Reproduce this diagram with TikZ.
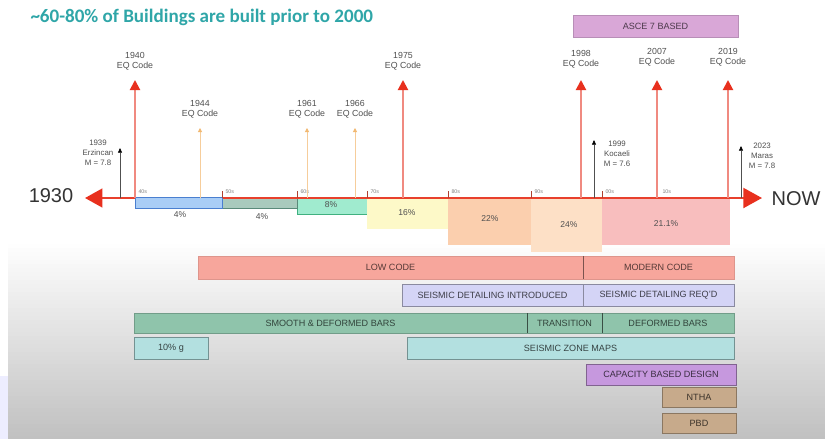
\documentclass[tikz,border=0pt]{standalone}
\usepackage{fontspec}
\setmainfont{Liberation Sans}
\newfontfamily\titlefont{Carlito}
\usetikzlibrary{arrows.meta}

\definecolor{titleteal}{HTML}{2FA6A8}
\definecolor{axisred}{HTML}{E8402C}
\definecolor{codered}{HTML}{E8301E}
\definecolor{codeline}{HTML}{F08A80}
\definecolor{oldorange}{HTML}{F2B870}
\definecolor{labelgray}{HTML}{505050}
\definecolor{tickred}{HTML}{B04030}
\definecolor{fortyfill}{HTML}{A9CDF6}
\definecolor{fortyedge}{HTML}{4A7FD0}
\definecolor{fiftyfill}{HTML}{A9CABD}
\definecolor{fiftyedge}{HTML}{5A8A7A}
\definecolor{sixtyfill}{HTML}{A0EBCF}
\definecolor{sixtyedge}{HTML}{40B080}
\definecolor{seventyfill}{HTML}{FDF9C8}
\definecolor{eightyfill}{HTML}{FBCFAE}
\definecolor{ninetyfill}{HTML}{FDE0C6}
\definecolor{noughtfill}{HTML}{F8BEBE}
\definecolor{asce}{HTML}{D9A7D7}
\definecolor{lowfill}{HTML}{F7A69C}
\definecolor{detfill}{HTML}{D4D4F6}
\definecolor{barfill}{HTML}{8FC4AB}
\definecolor{zonefill}{HTML}{B3E0E0}
\definecolor{capfill}{HTML}{C698DE}
\definecolor{nlfill}{HTML}{C7AA8B}

\tikzset{every picture/.style={line width=0.75pt}}

\begin{document}
\begin{tikzpicture}[x=0.75pt,y=0.75pt,yscale=-1,xscale=1,
	lbl/.style={font=\fontsize{6.6}{7.6}\selectfont, align=center, text=labelgray, inner sep=0pt},
	quakelbl/.style={font=\fontsize{5.9}{7.4}\selectfont, align=center, text=labelgray, inner sep=0pt},
	decade/.style={font=\fontsize{4}{5}\selectfont, text=gray, anchor=west, inner sep=0pt},
	pct/.style={font=\fontsize{6.4}{7}\selectfont, text=labelgray},
	bandtxt/.style={font=\fontsize{6.8}{8}\selectfont},
	eqcode/.style={draw=codeline, line width=1.5pt, -{Triangle[length=7.5pt,width=7.5pt,color=codered]}},
	oldcode/.style={draw=oldorange!70, line width=0.6pt, -{Triangle[length=3pt,width=3pt,color=oldorange]}},
	quake/.style={draw=labelgray, line width=0.5pt, -{Triangle[length=3.5pt,width=3pt,color=black]}},
	]
	\useasboundingbox (0,0) rectangle (825,439);
	%background, fading to grey at the bottom
	\fill[white] (0,0) rectangle (825,439);
	\foreach \i [evaluate=\i as \amt using \i*0.5] in {0,...,49}
		\fill[black!\amt] (8,{240+\i*4}) rectangle (825,{244.6+\i*4});
	\fill[blue!7] (0,376) rectangle (8,439);
	
	%title
	\node[anchor=west, inner sep=0pt, font=\titlefont\bfseries\fontsize{14.3}{16}\selectfont, text=titleteal] (title) at (30,17) {\textasciitilde 60-80\% of Buildings are built prior to 2000};
	
	%ASCE box
	\draw[fill=asce, draw=asce!85!black] (573,15) rectangle (738,37) node[midway, bandtxt, text=asce!35!black] (asce) {ASCE 7 BASED};
	
	%decade blocks
	\fill[sixtyfill] (297,197) rectangle (367,214);
	\draw[draw=sixtyedge, line width=0.6pt] (297,198) -- (297,214) -- (367,214) -- (367,198);
	\fill[seventyfill] (367,197) rectangle (448,229);
	\fill[eightyfill] (448,197) rectangle (531,245);
	\fill[ninetyfill] (531,197) rectangle (602,252);
	\fill[noughtfill] (602,197) rectangle (730,245);
	\fill[fiftyfill] (222,197) rectangle (297,208);
	\draw[draw=fiftyedge, line width=0.6pt] (222,198) -- (222,208) -- (297,208) -- (297,198);
	
	%time axis
	\coordinate (past) at (85,198);
	\coordinate (now) at (762,198);
	\draw[draw=axisred, line width=1.6pt, {Triangle[length=13pt,width=14pt,color=codered]}-{Triangle[length=14pt,width=15pt,color=codered]}] (past) -- (now);
	\node[font=\fontsize{15}{16}\selectfont, text=black!80] (y1930) at (51,196) {1930};
	\node[font=\fontsize{15}{16}\selectfont, text=black!80] (ynow) at (796,199) {NOW};
	
	%forties block on top of axis
	\draw[fill=fortyfill, draw=fortyedge, line width=0.6pt] (135,197) rectangle (222,208);
	
	%percent labels
	\node[pct] (p40) at (180,215) {4\%};
	\node[pct] (p50) at (262,217) {4\%};
	\node[pct] (p60) at (331,205) {8\%};
	\node[pct] (p70) at (407,213) {16\%};
	\node[pct] (p80) at (490,219) {22\%};
	\node[pct] (p90) at (569,225) {24\%};
	\node[pct] (p00) at (666,224) {21.1\%};
	
	%decade ticks
	\foreach \x in {222,297,367,448,531,602}
		\draw[draw=tickred, line width=0.5pt] (\x,191) -- (\x,198);
	\foreach \d/\x in {40s/138,50s/225,60s/300,70s/370,80s/451,90s/534,00s/605,10s/662}
		\node[decade] (d\d) at (\x,192) {\d};
	
	%major EQ codes
	\foreach \yr/\x/\yl in {1940/135/61,1975/403/61,1998/581/59,2007/657/57,2019/728/57}{
		\coordinate (b\yr) at (\x,198);
		\coordinate (t\yr) at (\x,80);
		\node[lbl] (l\yr) at (\x,\yl) {\yr\\EQ Code};
		\draw[eqcode] (b\yr) -- (t\yr);
	}
	
	%minor EQ codes
	\foreach \yr/\x in {1944/200,1961/307,1966/355}{
		\coordinate (b\yr) at (\x,198);
		\coordinate (t\yr) at (\x,128);
		\node[lbl] (l\yr) at (\x,109) {\yr\\EQ Code};
		\draw[oldcode] (b\yr) -- (t\yr);
	}
	
	%earthquakes
	\coordinate (q1939) at (120,148);
	\coordinate (q1999) at (594,140);
	\coordinate (q2023) at (741,146);
	\draw[quake] (120,198) -- (q1939);
	\draw[quake] (594,198) -- (q1999);
	\draw[quake] (741,198) -- (q2023);
	\node[quakelbl] (e1939) at (98,153) {1939\\Erzincan\\M = 7.8};
	\node[quakelbl] (e1999) at (617,154) {1999\\Kocaeli\\M = 7.6};
	\node[quakelbl] (e2023) at (762,156) {2023\\Maras\\M = 7.8};
	
	%code level
	\draw[fill=lowfill, draw=lowfill!90!black] (198,256) rectangle (583,279) node[midway, bandtxt, text=lowfill!35!black] (low) {LOW CODE};
	\draw[fill=lowfill, draw=lowfill!90!black] (583,256) rectangle (734,279) node[midway, bandtxt, text=lowfill!35!black] (modern) {MODERN CODE};
	\draw[draw=lowfill!50!black, line width=0.6pt] (583,256) -- (583,279);
	
	%detailing
	\draw[fill=detfill, draw=detfill!65!black] (402,284) rectangle (583,306) node[midway, bandtxt, text=detfill!30!black] (detin) {SEISMIC DETAILING INTRODUCED};
	\draw[fill=detfill, draw=detfill!65!black] (583,284) rectangle (734,306) node[midway, bandtxt, text=detfill!30!black] (detreq) {SEISMIC DETAILING REQ'D};
	
	%reinforcement
	\draw[fill=barfill, draw=barfill!80!black] (134,313) rectangle (527,333) node[midway, bandtxt, text=barfill!35!black] (smooth) {SMOOTH \& DEFORMED BARS};
	\draw[fill=barfill, draw=barfill!80!black] (527,313) rectangle (602,333) node[midway, bandtxt, text=barfill!35!black] (trans) {TRANSITION};
	\draw[fill=barfill, draw=barfill!80!black] (602,313) rectangle (734,333) node[midway, bandtxt, text=barfill!35!black] (deformed) {DEFORMED BARS};
	\draw[draw=barfill!40!black, line width=0.6pt] (527,313) -- (527,333);
	\draw[draw=barfill!40!black, line width=0.6pt] (602,313) -- (602,333);
	
	%hazard
	\draw[fill=zonefill, draw=zonefill!65!black] (134,337) rectangle (208,359) node[midway, bandtxt, text=zonefill!30!black] (tenpct) {10\% g};
	\draw[fill=zonefill, draw=zonefill!65!black] (407,337) rectangle (734,359) node[midway, bandtxt, text=zonefill!30!black] (zone) {SEISMIC ZONE MAPS};
	
	%design methods
	\draw[fill=capfill, draw=capfill!65!black] (586,364) rectangle (736,385) node[midway, bandtxt, text=capfill!30!black] (cap) {CAPACITY BASED DESIGN};
	\draw[fill=nlfill, draw=nlfill!70!black] (662,387) rectangle (736,407) node[midway, bandtxt, text=nlfill!30!black] (ntha) {NTHA};
	\draw[fill=nlfill, draw=nlfill!70!black] (662,413) rectangle (736,433) node[midway, bandtxt, text=nlfill!30!black] (pbd) {PBD};
	
\end{tikzpicture}
\end{document}
